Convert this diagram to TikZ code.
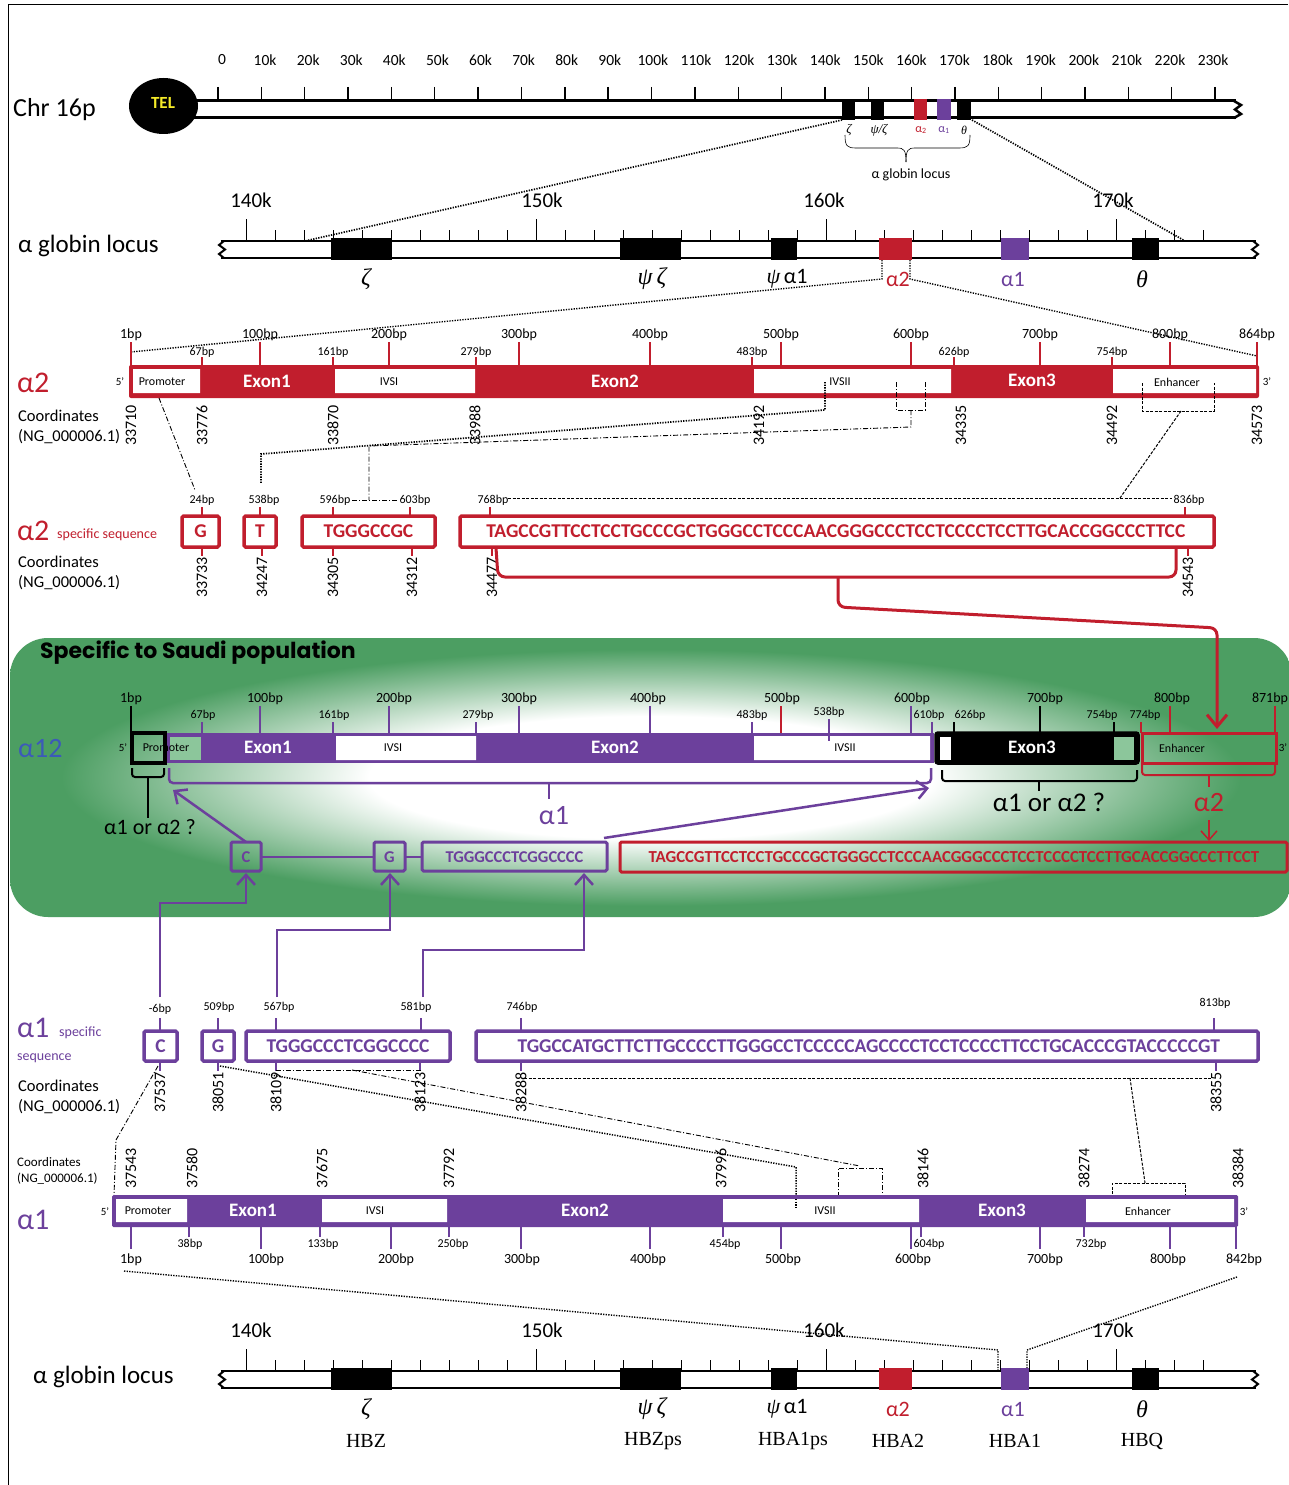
\documentclass[tikz,border=0pt]{standalone}
\usepackage{fontspec}
\setmainfont{Carlito}
\newfontfamily\serifg{Liberation Serif}
\newfontfamily\gothic{Poppins}
\usetikzlibrary{arrows.meta,shapes.geometric}
\definecolor{redg}{RGB}{193,30,45}
\definecolor{purp}{RGB}{108,64,156}
\definecolor{blu}{RGB}{60,90,185}
\definecolor{greenbg}{RGB}{76,158,98}
\definecolor{lgreen}{RGB}{140,198,155}
\definecolor{telyel}{RGB}{245,235,40}
\newcommand\fs[1]{\fontsize{#1}{#1}\selectfont}
\newcommand\gi[1]{{\serifg\itshape #1}}
\pgfdeclareradialshading{saudi}{\pgfpoint{0bp}{0bp}}{color(0bp)=(white); color(11bp)=(white); color(23bp)=(greenbg); color(50bp)=(greenbg)}
\tikzset{
  lbl/.style={inner sep=0pt,font=\fs{14}},
  mlbl/.style={inner sep=0pt,font=\fs{12}},
  coord/.style={inner sep=0pt,font=\fs{16},rotate=90},
  seqr/.style={draw=redg,line width=3.5pt,rounded corners=1.5pt},
  seqp/.style={draw=purp,line width=3.5pt,rounded corners=1.5pt},
  stxt/.style={font=\bfseries\fs{19.5},inner sep=0pt},
  dotl/.style={dash pattern=on 1.3pt off 1.3pt,line width=1.7pt},
  ddl/.style={dash pattern=on 5pt off 2pt on 1pt off 2pt,line width=0.9pt},
  dashl/.style={dash pattern=on 3pt off 1.5pt,line width=1pt},
  inbox/.style={font=\fs{12},inner sep=0pt},
  exon/.style={font=\bfseries\fs{19},text=white,inner sep=0pt},
  barb/.style={-{Straight Barb[length=10pt,width=18pt]}},
  plain/.style={inner sep=0pt}
}
\newcommand\globinlocus[1]{%
\begin{scope}[shift={(0,#1)}]
\foreach \k/\x in {140k/251,150k/542,160k/824,170k/1113}{\node[plain,font=\fs{21}] at (\x,200) {\k};}
\foreach \i in {0,...,33}{\draw[line width=0.9pt] ({246.5+29*\i},230) -- ({246.5+29*\i},241);}
\foreach \i in {0,10,20,30}{\draw[line width=0.9pt] ({246.5+29*\i},219) -- ({246.5+29*\i},241);}
\draw[line width=2.5pt] (221,241) -- (1256,241) (221,258) -- (1256,258);
\draw[line width=2pt] (224,241) -- (219,245) -- (225,249.5) -- (219,254) -- (224,258);
\draw[line width=2pt] (1253,241) -- (1258,245) -- (1252,249.5) -- (1258,254) -- (1253,258);
\fill (331,238) rectangle (392,260);
\fill (620,238) rectangle (681,260);
\fill (771,238) rectangle (797,260);
\fill[redg] (879,238) rectangle (912,260);
\fill[purp] (1001,238) rectangle (1029,260);
\fill (1132,238) rectangle (1159,260);
\node[plain,font=\fs{24}] at (366,279) {\gi{ζ}};
\node[plain,font=\fs{24}] at (652,279) {\gi{ψ}\,\gi{ζ}};
\node[plain,font=\fs{22}] at (787,279) {\gi{ψ}\,α1};
\node[plain,font=\fs{22},text=redg] at (898,279) {α2};
\node[plain,font=\fs{22},text=purp] at (1013,279) {α1};
\node[plain,font=\fs{24}] at (1142,279) {\gi{θ}};
\end{scope}}
\begin{document}
\begin{tikzpicture}[x=1pt,y=-1pt]
\useasboundingbox (0,0) rectangle (1288,1485);
\fill[white] (0,0) rectangle (1288,1485);
% Saudi box background first
\shade[shading=saudi,rounded corners=38pt] (10,638) rectangle (1292,917);
\draw[line width=1pt] (8,1485) -- (8,5) -- (1288,5);

% ---------------- Chr 16p
\node[plain,font=\fs{26},anchor=west] (chr) at (13,110) {Chr 16p};
\foreach \i in {0,...,23}{\draw[line width=1.4pt] ({218+43.35*\i},87) -- ({218+43.35*\i},101);}
\node[plain,font=\fs{15.5}] (t0) at (222,60) {0};
\foreach \i in {1,...,23}{\node[plain,font=\fs{15.5}] at ({222+43.09*\i},60) {\i0k};}
\draw[line width=3pt] (190,101) -- (1236,101) (190,118) -- (1236,118);
\draw[line width=2.5pt] (1234,101) -- (1241,105) -- (1235,109.5) -- (1241,114) -- (1234,118);
\node[ellipse,fill=black,minimum width=69pt,minimum height=56pt,inner sep=0pt] (tel) at (163.5,106) {};
\node[plain,text=telyel,font=\bfseries\fs{17}] at (163,103) {TEL};
\fill (842,99) rectangle (855,120);
\fill (871,99) rectangle (884,120);
\fill[redg] (914,99) rectangle (927,120);
\fill[purp] (937,99) rectangle (951,120);
\fill (957,99) rectangle (971,120);
\node[plain,font=\fs{13}] at (849,130) {\gi{ζ}};
\node[plain,font=\fs{13}] at (879,130) {\gi{ψ/ζ}};
\node[plain,font=\fs{12},text=redg] at (921,130) {α\textsubscript{2}};
\node[plain,font=\fs{12},text=purp] at (944,130) {α\textsubscript{1}};
\node[plain,font=\fs{12}] at (964,130) {\gi{θ}};
\draw[line width=0.6pt] (845,135) .. controls (845,146) and (847,148) .. (856,148) -- (897,148) .. controls (904,148) and (906,150) .. (906,162);
\draw[line width=0.6pt] (970,135) .. controls (970,146) and (968,148) .. (959,148) -- (915,148) .. controls (908,148) and (906,150) .. (906,162);
\node[plain,font=\fs{14}] (locsmall) at (911,175) {α globin locus};
\draw[dotl] (842,120) -- (305,241);
\draw[dotl] (972,120) -- (1185,241);

% ---------------- upper locus
\node[plain,font=\fs{25},anchor=west] (loc1) at (18,246) {α globin locus};
\globinlocus{0}
\draw[dotl,line width=1.4pt] (882,260) -- (882,279) -- (131,352);
\draw[dotl,line width=1.4pt] (910,260) -- (910,279) -- (1257,356);

% ---------------- alpha2 bar
\node[plain,font=\fs{30},text=redg,anchor=west] (a2t) at (17,383) {α2};
\node[plain,font=\fs{11}] at (120,382) {5’};
\node[plain,font=\fs{11}] at (1267,382) {3’};
\foreach \x/\l in {131/1bp,260/100bp,389/200bp,519/300bp,650/400bp,781/500bp,911/600bp,1040/700bp,1170/800bp,1257/864bp}{
  \draw[redg,line width=1.5pt] (\x,342) -- (\x,366);
  \node[lbl] at (\x,335) {\l};}
\foreach \x/\l in {202/67bp,333/161bp,476/279bp,752/483bp,954/626bp,1112/754bp}{
  \draw[redg,line width=1.5pt] (\x,357) -- (\x,366);
  \node[mlbl] at (\x,352) {\l};}
\fill[redg,rounded corners=2pt] (129,365) rectangle (1259,398);
\fill[white] (133,369) rectangle (200,393) (335,369) rectangle (475,393) (754,369) rectangle (951,393) (1113,369) rectangle (1256,393);
\node[inbox] at (162,382) {Promoter};
\node[exon] at (267,381) {Exon1};
\node[inbox] at (389,382) {IVSI};
\node[exon] at (615,381) {Exon2};
\node[inbox] at (840,382) {IVSII};
\node[exon] at (1032,380) {Exon3};
\node[inbox] at (1177,382) {Enhancer};
\node[plain,font=\fs{16.5},anchor=west] at (18,416) {Coordinates};
\node[plain,font=\fs{16.5},anchor=west] at (18,437) {(NG\_000006.1)};
\foreach \x/\l in {131/33710,202/33776,333/33870,475/33988,759/34192,961/34335,1112/34492,1257/34573}{
  \node[coord,anchor=east] at (\x,405) {\l};}
% connectors alpha2 -> specific
\draw[ddl] (159,398) -- (195,490);
\draw[dotl] (825,382) -- (825,410) -- (261,454) -- (261,484);
\draw[ddl] (896,382) -- (896,410) -- (925,410) -- (925,382);
\draw[ddl] (911,410) -- (911,427) -- (369,446) -- (369,500);
\draw[ddl] (352,500) -- (398,500);
\draw[dashl] (1142,383) -- (1142,411) -- (1214,411) -- (1214,383);
\draw[dashl] (1181,411) -- (1120,498);
\draw[dashl] (508,498) -- (1172,498);

% ---------------- alpha2 specific sequence
\node[plain,font=\fs{30},text=redg,anchor=west] (a2s) at (17,531) {α2};
\node[plain,font=\fs{14},text=redg,anchor=west] at (57,535) {specific sequence};
\node[plain,font=\fs{16.5},anchor=west] at (18,562) {Coordinates};
\node[plain,font=\fs{16.5},anchor=west] at (18,583) {(NG\_000006.1)};
\foreach \x/\l in {202/24bp,260/538bp,333/596bp,410/603bp,490/768bp,1185/836bp}{
  \draw[redg,line width=1.5pt] (\x,507) -- (\x,516);}
\foreach \x/\l in {202/24bp,264/538bp,335/596bp,415/603bp,493/768bp,1189/836bp}{
  \node[mlbl] at (\x,500) {\l};}
\foreach \x/\l in {202/33733,262/34247,333/34305,412/34312,492/34477,1188/34543}{
  \draw[redg,line width=1.5pt] (\x,547) -- (\x,556);
  \node[coord,anchor=east] at (\x,557) {\l};}
\draw[seqr] (182,516) rectangle (219,547);
\draw[seqr] (244,516) rectangle (276,547);
\draw[seqr] (302,516) rectangle (435,547);
\draw[seqr] (460,516) rectangle (1214,547);
\node[stxt,text=redg] (sG) at (200.5,531.5) {G};
\node[stxt,text=redg] (sT) at (260,531.5) {T};
\node[stxt,text=redg] (sTG) at (368.5,531.5) {TGGGCCGC};
\node[stxt,text=redg] (sLong) at (836,531.5) {TAGCCGTTCCTCCTGCCCGCTGGGCCTCCCAACGGGCCCTCCTCCCCTCCTTGCACCGGCCCTTCC};
\draw[redg,line width=3pt,rounded corners=7pt] (496,548) -- (498,577) -- (1176,577) -- (1176,548);
\draw[redg,line width=3pt,rounded corners=7pt,-{Straight Barb[length=12pt,width=20pt]}] (838,577) -- (838,607) -- (1217,628) -- (1217,729);

% ---------------- Saudi box content
\node[plain,font=\gothic\bfseries\fs{22},anchor=west] (saudi) at (40,653) {Specific to Saudi population};
\node[plain,font=\fs{28},text=blu,anchor=west] (a12) at (18,749) {α12};
\node[plain,font=\fs{11}] at (123,748) {5’};
\node[plain,font=\fs{11}] at (1283,748) {3’};
\foreach \x/\c/\l/\lx in {131/black/1bp/131,260/purp/100bp/265,389/purp/200bp/394,519/purp/300bp/519,650/purp/400bp/648,781/redg/500bp/782,911/purp/600bp/912,1040/black/700bp/1045,1170/redg/800bp/1172,1275/redg/871bp/1270}{
  \draw[color=\c,line width=1.5pt] (\x,706) -- (\x,733);
  \node[lbl] at (\lx,699) {\l};}
\foreach \x/\c/\l/\lx in {202/purp/67bp/203,333/purp/161bp/334,476/purp/279bp/478,752/purp/483bp/752,932/purp/610bp/929,954/black/626bp/970,1114/black/754bp/1102,1141/redg/774bp/1145}{
  \draw[color=\c,line width=1.5pt] (\x,722) -- (\x,733);
  \node[mlbl] at (\lx,715) {\l};}
\node[mlbl] at (829,712) {538bp};
\fill[purp] (165,733) rectangle (934,763);
\fill[lgreen] (170,737) rectangle (201,760);
\fill[white] (336,736) rectangle (476,760) (754,736) rectangle (930,760);
\draw[purp,line width=1.5pt] (829,719) -- (829,741);
\node[inbox] at (166,748) {Promoter};
\draw[line width=3.5pt] (132,733) rectangle (165,763);
\node[exon] (x1) at (268,747) {Exon1};
\node[inbox] at (393,748) {IVSI};
\node[exon] (x2) at (615,747) {Exon2};
\node[inbox] at (845,748) {IVSII};
\draw[line width=3.5pt,fill=black,rounded corners=2pt] (936,733) rectangle (1138,763);
\fill[white] (940,737) rectangle (951,760);
\fill[lgreen] (1114,737) rectangle (1134,760);
\node[exon] (x3) at (1032,747) {Exon3};
\draw[redg,line width=3pt] (1142,733) rectangle (1276,763);
\node[inbox] at (1182,748) {Enhancer};
% brackets under alpha12
\draw[line width=2pt,rounded corners=3pt] (132,768) -- (132,777) -- (164,777) -- (164,768);
\draw[line width=2pt] (148,777) -- (148,818);
\node[plain,font=\fs{22}] (q1) at (150,827) {α1 or α2 ?};
\draw[purp,line width=2.5pt,rounded corners=4pt] (169,768) -- (169,783) -- (931,783) -- (931,768);
\draw[purp,line width=2.5pt] (549,783) -- (549,799);
\node[plain,font=\fs{28},text=purp] (a1lab) at (554,816) {α1};
\draw[line width=2pt,rounded corners=3pt] (942,770) -- (942,781) -- (1137,781) -- (1137,770);
\draw[line width=2pt] (1039,781) -- (1039,791);
\node[plain,font=\fs{27}] (q2) at (1049,802) {α1 or α2 ?};
\draw[redg,line width=2pt,rounded corners=3pt] (1142,765) -- (1142,775) -- (1275,775) -- (1275,765);
\draw[redg,line width=2pt] (1209,775) -- (1209,787);
\node[plain,font=\fs{28},text=redg] (a2lab) at (1209,803) {α2};
\draw[redg,line width=1.5pt,-{Straight Barb[length=9pt,width=16pt]}] (1209,820) -- (1209,841);
% Saudi sequence boxes
\draw[seqp,line width=3pt] (231,842) rectangle (261,871);
\draw[seqp,line width=3pt] (374,842) rectangle (405,871);
\draw[seqp,line width=3pt] (422,842) rectangle (607,871);
\draw[seqr,line width=3pt] (620,842) rectangle (1287,872);
\node[plain,font=\bfseries\fs{16.5},text=purp] (kC) at (246,857) {C};
\node[plain,font=\bfseries\fs{16.5},text=purp] (kG) at (389.5,857) {G};
\node[plain,font=\bfseries\fs{16.5},text=purp] (kTG) at (514.5,857) {TGGGCCCTCGGCCCC};
\node[plain,font=\bfseries\fs{16.8},text=redg] (kR) at (954,857) {TAGCCGTTCCTCCTGCCCGCTGGGCCTCCCAACGGGCCCTCCTCCCCTCCTTGCACCGGCCCTTCCT};
\draw[purp,line width=2.5pt] (261,857) -- (374,857) (405,857) -- (422,857);
\draw[purp,line width=2.5pt,barb] (246,842) -- (173,790);
\draw[purp,line width=2.5pt,barb] (604,838) -- (929,788);
\draw[purp,line width=2.5pt,barb] (160,997) -- (160,903) -- (246,903) -- (246,873);
\draw[purp,line width=2.5pt,barb] (277,997) -- (277,930) -- (390,930) -- (390,873);
\draw[purp,line width=2.5pt,barb] (423,997) -- (423,950) -- (584,950) -- (584,873);

% ---------------- alpha1 specific sequence
\node[plain,font=\fs{30},text=purp,anchor=west] (a1s) at (17,1028) {α1};
\node[plain,font=\fs{14},text=purp,anchor=west] at (59,1033) {specific};
\node[plain,font=\fs{14},text=purp,anchor=west] at (17,1058) {sequence};
\node[plain,font=\fs{16.5},anchor=west] at (18,1086) {Coordinates};
\node[plain,font=\fs{16.5},anchor=west] at (18,1107) {(NG\_000006.1)};
\foreach \x/\l/\lx/\ly in {160/-6bp/160/1009,218/509bp/219/1007,276/567bp/279/1007,421/581bp/416/1007,521/746bp/522/1007,1214/813bp/1215/1003}{
  \draw[purp,line width=1.5pt] (\x,1018) -- (\x,1031);
  \node[mlbl] at (\lx,\ly) {\l};}
\foreach \x/\l in {160/37537,218/38051,276/38109,420/38123,521/38288,1216/38355}{
  \draw[purp,line width=1.5pt] (\x,1061) -- (\x,1071);
  \node[coord,anchor=east] at (\x,1072) {\l};}
\draw[seqp] (144,1031) rectangle (177,1061);
\draw[seqp] (202,1031) rectangle (234,1061);
\draw[seqp] (246,1031) rectangle (450,1061);
\draw[seqp] (476,1031) rectangle (1258,1061);
\node[stxt,text=purp] (pC) at (160.5,1046) {C};
\node[stxt,text=purp] (pG) at (218,1046) {G};
\node[stxt,text=purp] (pTG) at (348,1046) {TGGGCCCTCGGCCCC};
\node[stxt,text=purp] (pLong) at (869,1046) {TGGCCATGCTTCTTGCCCCTTGGGCCTCCCCCAGCCCCTCCTCCCCTTCCTGCACCCGTACCCCCGT};
% connectors alpha1 specific -> alpha1 bar
\draw[ddl] (158,1066) -- (116,1140) -- (114,1195);
\draw[dotl,line width=1.5pt] (220,1066) -- (796,1167) -- (796,1207);
\draw[ddl] (276,1070) -- (421,1070);
\draw[ddl] (352,1070) -- (860,1166);
\draw[ddl] (838,1207) -- (838,1168) -- (882,1168) -- (882,1207);
\draw[dashl] (524,1078) -- (1212,1078);
\draw[dashl] (1130,1078) -- (1145,1183);
\draw[dashl] (1112,1212) -- (1112,1183) -- (1185,1183) -- (1185,1212);

% ---------------- alpha1 bar
\node[plain,font=\fs{13},anchor=west] at (17,1162) {Coordinates};
\node[plain,font=\fs{13},anchor=west] at (17,1179) {(NG\_000006.1)};
\foreach \x/\l in {131/37543,192/37580,322/37675,449/37792,721/37996,923/38146,1084/38274,1238/38384}{
  \node[coord,anchor=west] at (\x,1189) {\l};}
\node[plain,font=\fs{30},text=purp,anchor=west] (a1b) at (17,1220) {α1};
\node[plain,font=\fs{11}] at (105,1212) {5’};
\node[plain,font=\fs{11}] at (1244,1212) {3’};
\foreach \x/\l/\lx in {131/1bp/131,261/100bp/266,391/200bp/396,521/300bp/522,650/400bp/648,781/500bp/783,911/600bp/913,1040/700bp/1045,1170/800bp/1168,1236/842bp/1244}{
  \draw[purp,line width=1.5pt] (\x,1226) -- (\x,1249);
  \node[lbl] at (\lx,1260) {\l};}
\foreach \x/\l/\lx in {189/38bp/190,320/133bp/323,449/250bp/453,723/454bp/725,921/604bp/929,1084/732bp/1091}{
  \draw[purp,line width=1.5pt] (\x,1226) -- (\x,1237);
  \node[mlbl] at (\lx,1244) {\l};}
\fill[purp,rounded corners=1.5pt] (112,1195) rectangle (1238,1227);
\fill[white] (116,1199) rectangle (187,1222) (322,1199) rectangle (447,1222) (723,1199) rectangle (919,1222) (1086,1199) rectangle (1234,1222);
\draw[dotl,line width=1.5pt] (796,1199) -- (796,1207);
\node[inbox] at (148,1211) {Promoter};
\node[exon] at (253,1210) {Exon1};
\node[inbox] at (375,1211) {IVSI};
\node[exon] at (585,1210) {Exon2};
\node[inbox] at (825,1211) {IVSII};
\node[exon] at (1002,1210) {Exon3};
\node[inbox] at (1148,1211) {Enhancer};
\draw[dotl,line width=1.4pt] (124,1271) -- (998,1350) -- (998,1371);
\draw[dotl,line width=1.4pt] (1237,1277) -- (1027,1350) -- (1027,1371);

% ---------------- lower locus
\node[plain,font=\fs{25},anchor=west] (loc2) at (33,1377) {α globin locus};
\globinlocus{1130}
\foreach \x/\l in {366/HBZ,653/HBZps,793/HBA1ps,898/HBA2,1015/HBA1,1142/HBQ}{
  \node[plain,font=\serifg\fs{20}] at (\x,1441) {\l};}
\end{tikzpicture}
\end{document}
